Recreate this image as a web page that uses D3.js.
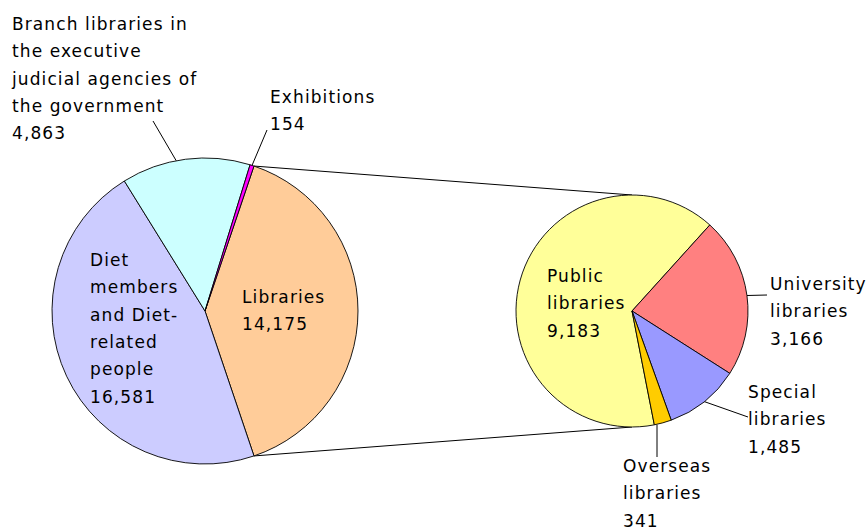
<!DOCTYPE html>
<html>
<head>
<meta charset="utf-8">
<script src="https://cdn.jsdelivr.net/npm/d3@7"></script>
<style>
  html, body { margin: 0; padding: 0; background: #fff; }
  svg { display: block; }
  text { font-family: "DejaVu Sans", sans-serif; font-size: 17px; letter-spacing: 1.1px; fill: #000; }
</style>
</head>
<body>
<svg id="chart" width="867" height="530"></svg>
<script>
// ---- data ----
const mainCategories = ["Libraries", "Diet members and Diet-related people", "Branch libraries in the executive judicial agencies of the government", "Exhibitions"];
const mainValues = [14175, 16581, 4863, 154];
const mainLabelLines = [
  ["Libraries", "14,175"],
  ["Diet", "members", "and Diet-", "related", "people", "16,581"],
  ["Branch libraries in", "the executive", "judicial agencies of", "the government", "4,863"],
  ["Exhibitions", "154"]
];
const subCategories = ["Public libraries", "University libraries", "Special libraries", "Overseas libraries"];
const subValues = [9183, 3166, 1485, 341];
const subLabelLines = [
  ["Public", "libraries", "9,183"],
  ["University", "libraries", "3,166"],
  ["Special", "libraries", "1,485"],
  ["Overseas", "libraries", "341"]
];

// ---- styles / layout ----
const mainColors = ["#FFCC99", "#CCCCFF", "#CCFFFF", "#FF00FF"];
const subColors = ["#FFFF99", "#FF8080", "#9999FF", "#FFCC00"];
const lineH = 27.3;

const svg = d3.select("#chart");
svg.append("rect").attr("width", 867).attr("height", 530).attr("fill", "#fff");

const deg = Math.PI / 180;
const main = { cx: 205, cy: 311, r: 153 };
const sub = { cx: 632, cy: 311, r: 116 };

// main pie: split slice (Libraries) centred on the right side
const mainTotal = d3.sum(mainValues);
const libSpan = mainValues[0] / mainTotal * 2 * Math.PI;
const mainPie = d3.pie().sort(null).value(d => d)
  .startAngle(Math.PI / 2 - libSpan / 2)
  .endAngle(Math.PI / 2 - libSpan / 2 + 2 * Math.PI);
const mainArcs = mainPie(mainValues);

const subStart = 168.9 * deg;
const subPie = d3.pie().sort(null).value(d => d)
  .startAngle(subStart).endAngle(subStart + 2 * Math.PI);
const subArcs = subPie(subValues);

const arcMain = d3.arc().innerRadius(0).outerRadius(main.r);
const arcSub = d3.arc().innerRadius(0).outerRadius(sub.r);

function edge(c, a, rr) {
  return [c.cx + rr * Math.sin(a), c.cy - rr * Math.cos(a)];
}

// connector lines
const libArc = mainArcs[0];
const p1 = edge(main, libArc.startAngle, main.r);
const p2 = edge(main, libArc.endAngle, main.r);
const q1 = edge(sub, 0, sub.r);
const q2 = edge(sub, Math.PI, sub.r);
svg.append("line").attr("x1", p1[0]).attr("y1", p1[1]).attr("x2", q1[0]).attr("y2", q1[1])
  .attr("stroke", "#000").attr("stroke-width", 1);
svg.append("line").attr("x1", p2[0]).attr("y1", p2[1]).attr("x2", q2[0]).attr("y2", q2[1])
  .attr("stroke", "#000").attr("stroke-width", 1);

const gMain = svg.append("g").attr("transform", `translate(${main.cx},${main.cy})`);
gMain.selectAll("path").data(mainArcs).join("path")
  .attr("d", arcMain)
  .attr("fill", (d, i) => mainColors[i])
  .attr("stroke", "#000").attr("stroke-width", 0.9).attr("stroke-linejoin", "round");

const gSub = svg.append("g").attr("transform", `translate(${sub.cx},${sub.cy})`);
gSub.selectAll("path").data(subArcs).join("path")
  .attr("d", arcSub)
  .attr("fill", (d, i) => subColors[i])
  .attr("stroke", "#000").attr("stroke-width", 0.9).attr("stroke-linejoin", "round");

// label helpers
function drawLabel(lines, x, yFirst) {
  const t = svg.append("text").attr("x", x).attr("y", yFirst);
  lines.forEach((ln, i) => {
    t.append("tspan").attr("x", x).attr("y", yFirst + i * lineH).text(ln);
  });
}
function leader(from, to) {
  svg.append("line").attr("x1", from[0]).attr("y1", from[1]).attr("x2", to[0]).attr("y2", to[1])
    .attr("stroke", "#000").attr("stroke-width", 1);
}
const mid = d => (d.startAngle + d.endAngle) / 2;

// main pie labels
drawLabel(mainLabelLines[0], 242, 303);            // Libraries (inside)
drawLabel(mainLabelLines[1], 90, 266);             // Diet members (inside)
drawLabel(mainLabelLines[2], 12, 30);              // Branch libraries (outside)
leader([153, 121], edge(main, mid(mainArcs[2]) - 3.5 * deg, main.r));
drawLabel(mainLabelLines[3], 270, 103);            // Exhibitions (outside)
leader([267, 130], edge(main, mid(mainArcs[3]), main.r));

// sub pie labels
drawLabel(subLabelLines[0], 547, 282);             // Public (inside)
drawLabel(subLabelLines[1], 770, 290);             // University
leader([767, 295], edge(sub, mid(subArcs[1]), sub.r));
drawLabel(subLabelLines[2], 748, 398);             // Special
leader([748, 417], edge(sub, mid(subArcs[2]), sub.r));
drawLabel(subLabelLines[3], 623, 472);             // Overseas
const eo = edge(sub, mid(subArcs[3]), sub.r);
leader([657, 457], [657, eo[1] + 2]);
</script>
</body>
</html>
